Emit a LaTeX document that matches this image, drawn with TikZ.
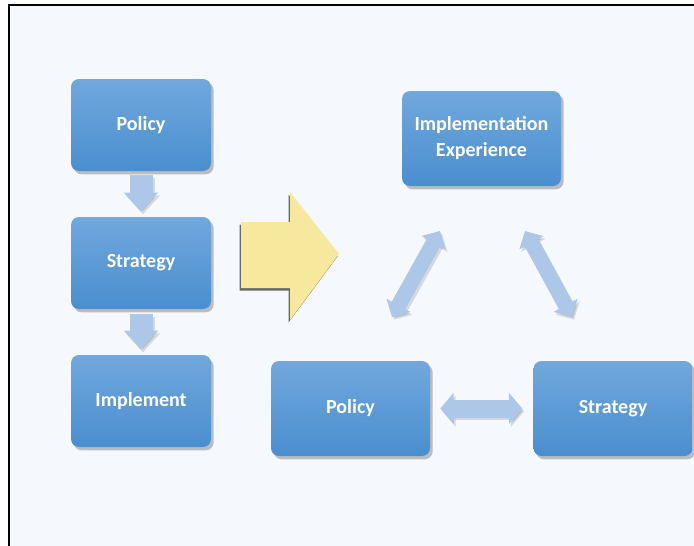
\documentclass[tikz,border=0pt]{standalone}
\usepackage{fontspec}
\setmainfont{Carlito}
\usetikzlibrary{shadows,arrows.meta}
\definecolor{bgc}{RGB}{245,249,253}
\definecolor{boxtop}{RGB}{113,168,221}
\definecolor{boxbot}{RGB}{74,142,207}
\definecolor{arrc}{RGB}{172,199,232}
\definecolor{yel}{RGB}{246,233,158}
\definecolor{yshad}{RGB}{105,105,105}
\begin{document}
\begin{tikzpicture}[x=0.75pt,y=-0.75pt,
  box/.style={rounded corners=6pt, top color=boxtop, bottom color=boxbot, draw=none,
    text=white, font=\bfseries\fontsize{15}{19.5}\selectfont, align=center, inner sep=0pt,
    drop shadow={shadow xshift=2pt,shadow yshift=-2.5pt,opacity=0.35,fill=black!70}},
  smallbox/.style={box, minimum width=105pt, minimum height=69pt},
  bigbox/.style={box, minimum width=119.25pt, minimum height=71.25pt},
  ashadow/.style={draw=black, opacity=0.13, transform canvas={shift={(1.5pt,-2pt)}}},
  fatv/.style={draw=arrc, line width=17.25pt, -{Triangle[length=14.25pt,width=24.75pt]}},
  fatd/.style={draw=arrc, line width=11.5pt, {Triangle[length=10pt,width=20pt]}-{Triangle[length=10pt,width=20pt]}},
  fath/.style={draw=arrc, line width=13.5pt, {Triangle[length=10pt,width=23pt]}-{Triangle[length=10pt,width=23pt]}}
]
\useasboundingbox (0,0) rectangle (694,546);
\fill[white] (0,0) rectangle (694,546);
\fill[bgc] (9,5) rectangle (694,546);
\draw[line width=1.5pt, black] (8.5,546) -- (8.5,4.5) -- (694,4.5);

% left column
\node[smallbox] (pol1) at (141,125) {Policy};
\node[smallbox] (str1) at (141,263) {Strategy};
\node[smallbox] (imp1) at (141,401) {Implement};

\draw[fatv, ashadow] ([yshift=-3pt]pol1.south) -- ([yshift=3.75pt]str1.north);
\draw[fatv, ashadow] ([yshift=-3.75pt]str1.south) -- ([yshift=3.75pt]imp1.north);
\draw[fatv] ([yshift=-3pt]pol1.south) -- ([yshift=3.75pt]str1.north);
\draw[fatv] ([yshift=-3.75pt]str1.south) -- ([yshift=3.75pt]imp1.north);

% big yellow arrow
\fill[yshad] (239.5,224.5) -- (288.5,224.5) -- (288.5,194.5) -- (337.5,256.5) -- (288.5,322.5) -- (288.5,290.5) -- (239.5,290.5) -- cycle;
\fill[yel] (241,222) -- (290,222) -- (290,192) -- (339,254) -- (290,320) -- (290,288) -- (241,288) -- cycle;

% right group
\node[bigbox] (ie) at (481.5,138.5) {Implementation\\Experience};
\node[bigbox] (pol2) at (350.5,408.5) {Policy};
\node[bigbox] (str2) at (613,408.5) {Strategy};

\coordinate (d1a) at (392,317);
\coordinate (d1b) at (440,231);
\coordinate (d2a) at (525,231);
\coordinate (d2b) at (572,317);
\draw[fatd, ashadow] (d1a) -- (d1b);
\draw[fatd, ashadow] (d2a) -- (d2b);
\draw[fath, ashadow] ([xshift=7.5pt]pol2.east) -- ([xshift=-8.25pt]str2.west);
\draw[fatd] (d1a) -- (d1b);
\draw[fatd] (d2a) -- (d2b);
\draw[fath] ([xshift=7.5pt]pol2.east) -- ([xshift=-8.25pt]str2.west);
\end{tikzpicture}
\end{document}
